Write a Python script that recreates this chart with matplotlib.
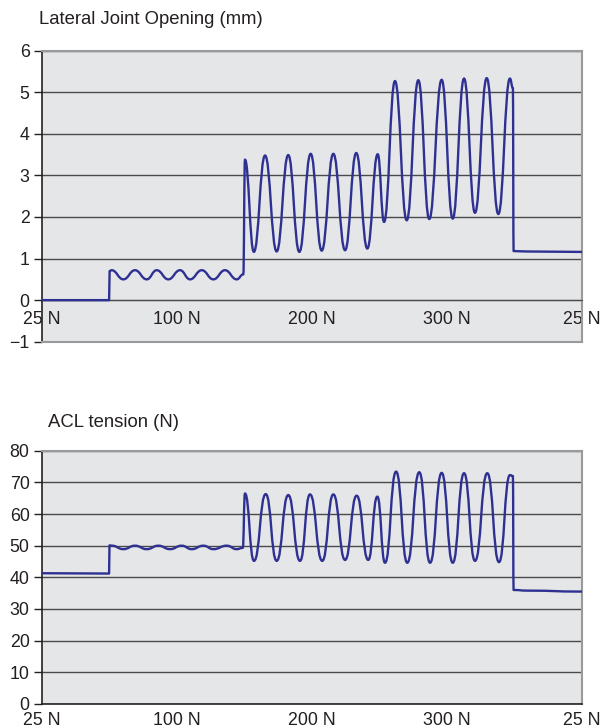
import matplotlib
matplotlib.use("Agg")
import matplotlib.pyplot as plt
from matplotlib.path import Path
from matplotlib.patches import PathPatch

plt.rcParams['font.family'] = ['Liberation Sans', 'DejaVu Sans']

# [Data]______________________________________________________________________
# x runs 0..4 across the axis, ticks at the load steps
tick_pos = [0, 1, 2, 3, 4]
tick_lab = ["25 N", "100 N", "200 N", "300 N", "25 N"]

# lateral joint opening (mm): turning points of the trace
open_x = [0.0, 0.497, 0.501, 0.516, 0.603, 0.689, 0.776, 0.850, 0.936, 1.023, 1.097,
          1.184, 1.270, 1.356, 1.443, 1.492, 1.504, 1.570, 1.653, 1.739, 1.825,
          1.907, 1.991, 2.073, 2.159, 2.246, 2.329, 2.411, 2.488, 2.535, 2.616,
          2.703, 2.789, 2.870, 2.962, 3.044, 3.128, 3.209, 3.296, 3.382, 3.468,
          3.490, 3.495, 3.600, 4.0]
open_y = [0.0, 0.0, 0.70, 0.72, 0.50, 0.72, 0.50, 0.72, 0.50, 0.72, 0.50,
          0.72, 0.50, 0.72, 0.50, 0.62, 3.38, 1.16, 3.48, 1.17, 3.49,
          1.16, 3.52, 1.19, 3.52, 1.20, 3.54, 1.24, 3.51, 1.88, 5.27,
          1.92, 5.29, 1.95, 5.30, 1.96, 5.33, 2.10, 5.34, 2.07, 5.33,
          5.10, 1.18, 1.17, 1.16]

# ACL tension (N)
acl_x = [0.0, 0.497, 0.500, 0.517, 0.603, 0.689, 0.776, 0.862, 0.949, 1.035, 1.109,
         1.196, 1.270, 1.369, 1.443, 1.488, 1.504, 1.571, 1.658, 1.739, 1.825,
         1.912, 1.986, 2.077, 2.159, 2.246, 2.332, 2.418, 2.485, 2.542, 2.624,
         2.707, 2.796, 2.876, 2.962, 3.044, 3.128, 3.209, 3.300, 3.387, 3.468,
         3.490, 3.495, 3.600, 4.0]
acl_y = [41.3, 41.2, 50.1, 50.0, 48.9, 50.0, 48.9, 50.0, 48.9, 50.0, 48.9,
         50.0, 48.9, 50.0, 48.9, 49.3, 66.5, 45.2, 66.3, 45.2, 66.0,
         45.2, 66.2, 45.2, 66.2, 45.5, 65.8, 45.5, 65.5, 44.6, 73.4,
         44.6, 73.2, 44.6, 73.0, 44.6, 72.9, 45.2, 72.9, 44.8, 72.3,
         72.0, 36.0, 35.8, 35.5]

bg = "#e5e6e8"
line_c = "#2e3192"
grid_c = "#4a4a4a"
frame_c = "#9a9a9a"
txt_c = "#231f20"
fs = 12.8


def trace(ax, xs, ys, k):
    # smooth curve through the turning points, flat at each one
    verts = [(xs[0], ys[0])]
    codes = [Path.MOVETO]
    for x0, y0, x1, y1 in zip(xs[:-1], ys[:-1], xs[1:], ys[1:]):
        dx = x1 - x0
        verts += [(x0 + k * dx, y0), (x1 - k * dx, y1), (x1, y1)]
        codes += [Path.CURVE4] * 3
    ax.add_patch(PathPatch(Path(verts, codes), fill=False, edgecolor=line_c,
                           lw=1.7, zorder=3, capstyle='round', joinstyle='round'))


def style(ax, ymin, ymax, step):
    ax.set_facecolor(bg)
    ax.set_xlim(0, 4)
    ax.set_ylim(ymin, ymax)
    yt = list(range(ymin, ymax + 1, step))
    ax.set_yticks(yt)
    ax.set_yticklabels([str(v).replace("-", "\u2212") for v in yt])
    for v in yt:
        ax.axhline(v, color=grid_c, lw=1.0, zorder=1)
    ax.tick_params(axis='y', length=6, width=1, color="#222222", pad=3,
                   labelsize=fs, labelcolor=txt_c)
    ax.tick_params(axis='x', length=0, labelsize=fs, labelcolor=txt_c)
    ax.set_xticks(tick_pos)
    ax.set_xticklabels(tick_lab)
    ax.spines['left'].set_color("#222222")
    ax.spines['left'].set_linewidth(1.2)
    for s in ['top', 'right']:
        ax.spines[s].set_color(frame_c)
        ax.spines[s].set_linewidth(1.5)


fig = plt.figure(figsize=(6.03, 7.28), dpi=100)

ax1 = fig.add_axes([0.0697, 0.5306, 0.895, 0.3998])
style(ax1, -1, 6, 1)
trace(ax1, open_x, open_y, 0.45)
ax1.spines['bottom'].set_position(('data', 0))
ax1.spines['bottom'].set_color(grid_c)
ax1.tick_params(axis='x', pad=8)
ax1.plot([0, 1], [0, 0], transform=ax1.transAxes, color=frame_c, lw=1.5,
         clip_on=False, zorder=4)
fig.text(39 / 603, 1 - 20 / 728, "Lateral Joint Opening (mm)", fontsize=13.3,
         color=txt_c, va='center', ha='left')

ax2 = fig.add_axes([0.0697, 0.0330, 0.895, 0.3479])
style(ax2, 0, 80, 10)
trace(ax2, acl_x, acl_y, 0.5)
ax2.spines['bottom'].set_color("#222222")
ax2.spines['bottom'].set_linewidth(1.2)
ax2.tick_params(axis='x', pad=6)
fig.text(48 / 603, 1 - 422 / 728, "ACL tension (N)", fontsize=13.3,
         color=txt_c, va='center', ha='left')

fig.savefig("out.png", dpi=100)
